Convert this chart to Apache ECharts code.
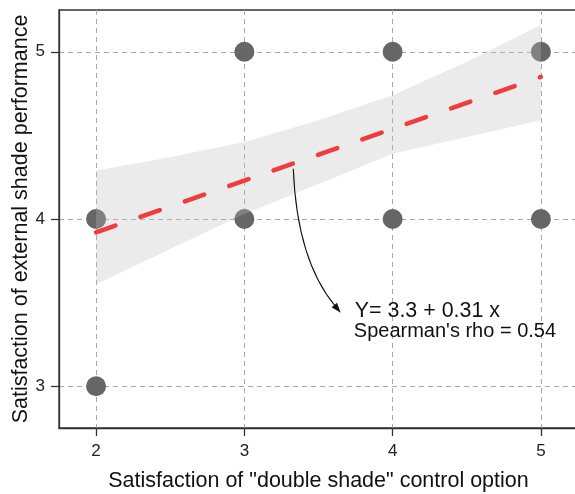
<!DOCTYPE html>
<html>
<head>
<meta charset="utf-8">
<script src="https://cdn.jsdelivr.net/npm/echarts@6/dist/echarts.min.js"></script>
<style>
  html, body { margin: 0; padding: 0; background: #fff; }
  #chart { width: 575px; height: 494px; }
</style>
</head>
<body>
<div id="chart"></div>
<script>
// Observed responses (overlapping answers share one dot)
const pointX = [2, 2, 3, 3, 4, 4, 5, 5];
const pointY = [3, 4, 4, 5, 4, 5, 4, 5];

// Linear fit: Y = 3.3 + 0.31 x, drawn across the observed x span
const fitIntercept = 3.3;
const fitSlope = 0.31;
const fitX = [2, 5];

// Confidence band around the fit
const bandX = [2, 2.5, 3, 3.5, 4, 4.5, 5];
const bandLower = [3.61, 3.82, 4.03, 4.21, 4.39, 4.49, 4.59];
const bandUpper = [4.29, 4.37, 4.46, 4.59, 4.74, 4.94, 5.16];

// Axis ticks
const xTicks = [2, 3, 4, 5];
const yTicks = [3, 4, 5];

// Annotation text and its anchor points (data units)
const eqText = 'Y= 3.3 + 0.31 x';
const rhoText = "Spearman's rho = 0.54";
const arrowFrom = [3.33, 4.30];
const arrowCtrl = [3.355, 3.75];
const arrowTo = [3.65, 3.44];
const eqAt = [3.745, 3.45];
const rhoAt = [3.738, 3.325];

const FONT = '"Liberation Sans", Arial, Helvetica, sans-serif';
const gridDash = { color: '#a8a8a8', width: 1, type: [5, 4] };
const axisStroke = { color: '#333', width: 1.3 };

const chart = echarts.init(document.getElementById('chart'), null, { renderer: 'canvas' });

const option = {
  animation: false,
  backgroundColor: '#ffffff',
  grid: {
    left: 59, top: 10, width: 519, height: 418,
    outerBoundsMode: 'none',
    containLabel: false,
    show: true, borderColor: '#333', borderWidth: 1.3,
    backgroundColor: 'transparent'
  },
  xAxis: {
    type: 'value', min: 1.75, max: 5.25,
    name: 'Satisfaction of "double shade" control option',
    nameLocation: 'middle', nameGap: 42, nameMoveOverlap: false,
    nameTextStyle: { fontSize: 21.5, fontFamily: FONT, color: '#111' },
    axisLine: { show: true, onZero: false, lineStyle: axisStroke },
    axisTick: { show: true, length: 8, customValues: xTicks, lineStyle: axisStroke },
    axisLabel: { customValues: xTicks, fontSize: 17, fontFamily: FONT, color: '#222', margin: 15 },
    splitLine: { show: true, customValues: xTicks, lineStyle: gridDash }
  },
  yAxis: {
    type: 'value', min: 2.75, max: 5.25,
    name: 'Satisfaction of external shade performance',
    nameLocation: 'middle', nameGap: 27, nameMoveOverlap: false,
    nameTextStyle: { fontSize: 21.5, fontFamily: FONT, color: '#111' },
    axisLine: { show: true, onZero: false, lineStyle: axisStroke },
    axisTick: { show: true, length: 8, customValues: yTicks, lineStyle: axisStroke },
    axisLabel: { customValues: yTicks, fontSize: 17, fontFamily: FONT, color: '#222', margin: 14 },
    splitLine: { show: true, customValues: yTicks, lineStyle: gridDash }
  },
  series: [
    {
      type: 'scatter',
      z: 2,
      symbol: 'circle',
      symbolSize: 20,
      itemStyle: { color: '#666666', opacity: 1 },
      data: pointX.map((x, i) => [x, pointY[i]])
    },
    {
      type: 'custom',
      z: 3,
      silent: true,
      data: bandX.map((x, i) => [x, bandLower[i], bandUpper[i]]),
      encode: { x: 0, y: [1, 2] },
      renderItem: function (params, api) {
        if (params.dataIndex !== 0) return;
        const pts = [];
        for (let i = 0; i < bandX.length; i++) pts.push(api.coord([bandX[i], bandUpper[i]]));
        for (let i = bandX.length - 1; i >= 0; i--) pts.push(api.coord([bandX[i], bandLower[i]]));
        return { type: 'polygon', shape: { points: pts }, style: { fill: 'rgba(190,190,190,0.3)' } };
      }
    },
    {
      type: 'line',
      z: 4,
      symbol: 'none',
      silent: true,
      lineStyle: { color: '#F03C3C', width: 4.5, type: [20.5, 26.5], cap: 'round' },
      data: fitX.map(x => [x, fitIntercept + fitSlope * x])
    },
    {
      type: 'custom',
      z: 5,
      silent: true,
      data: [arrowFrom],
      renderItem: function (params, api) {
        const p0 = api.coord(arrowFrom);
        const p1 = api.coord(arrowCtrl);
        const p2 = api.coord(arrowTo);
        const dx = p2[0] - p1[0], dy = p2[1] - p1[1];
        const len = Math.sqrt(dx * dx + dy * dy);
        const ux = dx / len, uy = dy / len;
        const headLen = 10, headHalf = 3.5;
        const bx = p2[0] - ux * headLen, by = p2[1] - uy * headLen;
        const e = api.coord(eqAt);
        const r = api.coord(rhoAt);
        return {
          type: 'group',
          children: [
            {
              type: 'bezierCurve',
              shape: { x1: p0[0], y1: p0[1], cpx1: p1[0], cpy1: p1[1], x2: bx + ux * 2, y2: by + uy * 2 },
              style: { stroke: '#111', lineWidth: 1.1, fill: null }
            },
            {
              type: 'polygon',
              shape: { points: [p2, [bx - uy * headHalf, by + ux * headHalf], [bx + uy * headHalf, by - ux * headHalf]] },
              style: { fill: '#111' }
            },
            {
              type: 'text',
              style: { text: eqText, x: e[0], y: e[1], fill: '#111', font: '21.4px ' + FONT, textAlign: 'left', textVerticalAlign: 'middle' }
            },
            {
              type: 'text',
              style: { text: rhoText, x: r[0], y: r[1], fill: '#111', font: '20px ' + FONT, textAlign: 'left', textVerticalAlign: 'middle' }
            }
          ]
        };
      }
    }
  ]
};

chart.setOption(option);
</script>
</body>
</html>
